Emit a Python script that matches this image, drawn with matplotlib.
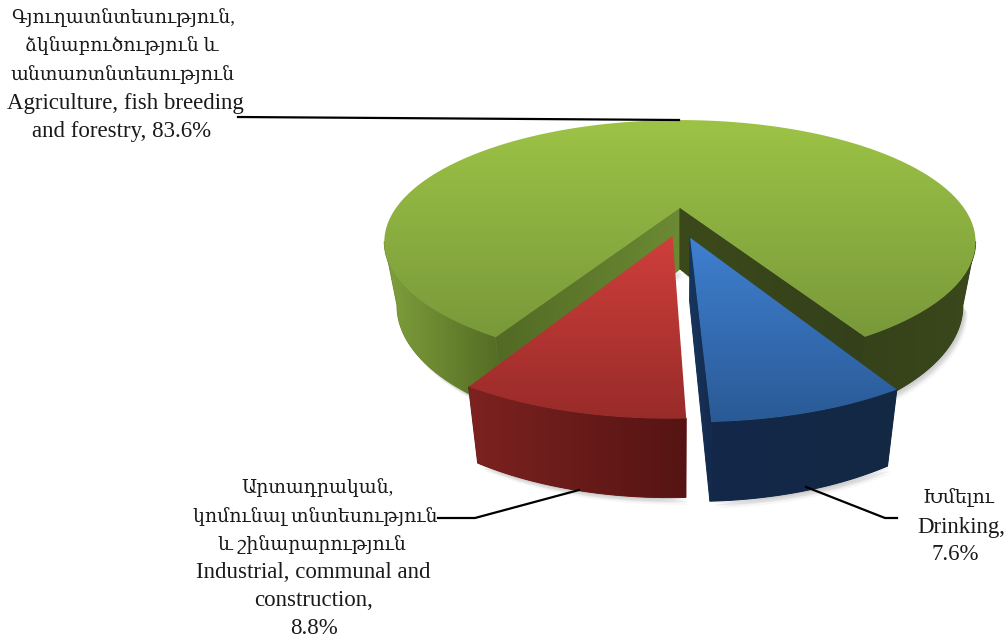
import numpy as np
import matplotlib
matplotlib.use('Agg')
import matplotlib.pyplot as plt
from matplotlib.colors import LinearSegmentedColormap
from matplotlib.patches import Polygon

# Data
shares = [83.6, 8.8, 7.6]  # agriculture, industrial, drinking
explode = [0.13, 0.105, 0.12]

agri_lines = ['Գյուղատնտեսություն,', 'ձկնաբուծություն և', 'անտառտնտեսություն',
              'Agriculture, fish breeding', 'and forestry, 83.6%']
indus_lines = ['Արտադրական,', 'կոմունալ տնտեսություն', 'և շինարարություն',
               'Industrial, communal and', 'construction,', '8.8%']
drink_lines = ['Խմելու', 'Drinking,', '7.6%']

FONT = ['Liberation Serif', 'DejaVu Serif']

# perspective of the pie plane in pixels
CX, CY, RX, RY, K = 680, 208, 284, 112.4, 0.278


def to_px(u, v, lower=False):
    d = 1 + K * v
    x = CX + RX * u / d
    y = CY - RY * v / d
    if lower:
        x = CX + 0.957 * (x - CX)
        y = y + 61 + 0.086 * (y - 209)
    return np.column_stack([x, y])


def rim(w, a1, a2, lower=False):
    th = np.radians(np.linspace(a1, a2, 120))
    return to_px(w.center[0] + np.cos(th), w.center[1] + np.sin(th), lower)


def spot(w, a=None, lower=False):
    if a is None:
        return to_px(np.array([w.center[0]]), np.array([w.center[1]]), lower)
    return rim(w, a, a, lower)[:1]


def fill(pts, colors, vertical=True, z=2, back=False):
    pts = np.asarray(pts)
    x0, y0 = pts.min(axis=0)
    x1, y1 = pts.max(axis=0)
    cm = LinearSegmentedColormap.from_list('g', colors)
    if back:
        # closes the hairline between neighbouring faces
        ax.add_patch(Polygon(pts, fc=cm(0.5), ec=cm(0.5), lw=0.7, zorder=z))
    grad = np.linspace(0, 1, 256)
    grad = grad[:, None] if vertical else grad[None, :]
    im = ax.imshow(grad, cmap=cm, extent=(x0, x1, y1, y0), aspect='auto', zorder=z,
                   interpolation='bilinear')
    im.set_clip_path(Polygon(pts, transform=ax.transData))


def band(w, a1, a2, colors, z=2):
    fill(np.vstack([rim(w, a1, a2), rim(w, a1, a2, True)[::-1]]), colors, False, z, True)


def cut(w, a, colors, z=2):
    pts = np.vstack([spot(w), spot(w, a), spot(w, a, True), spot(w, lower=True)])
    fill(pts, colors, False, z, True)


def shadow(pts, z=1):
    for dx, dy, al in [(5, 7, 0.05), (4, 5, 0.07), (3, 4, 0.09), (2, 2, 0.10)]:
        ax.add_patch(Polygon(pts + [dx, dy], fc='#555555', ec='none', alpha=al, zorder=z))


fig = plt.figure(figsize=(10.06, 6.39), dpi=100)
ax = fig.add_axes([0, 0, 1, 1])

wedges, _ = ax.pie(shares, explode=explode, startangle=-60.4, radius=1, center=(0, -0.13))
green, red, blue = wedges
for w in wedges:
    w.set_visible(False)

# green slice, the side runs out to the widest point of the rim
g1, g2 = green.theta1, green.theta2
low_left = rim(green, 196, g2, True)
low_right = rim(green, g1 + 360, 344, True)
shadow(np.vstack([low_left, spot(green, lower=True)]))
shadow(np.vstack([low_right, spot(green, lower=True)]))
band(green, 196, g2, ['#80a03c', '#526a23'], 2)
band(green, g1, -16, ['#36421a', '#3a481c'], 2)
cut(green, g2, ['#526a24', '#6c8a34'], 3)
cut(green, g1, ['#3c4a1b', '#33401a'], 3)
fill(np.vstack([spot(green), rim(green, g1, g2)]), ['#9dc346', '#79993a'], True, 4)

# red slice
r1, r2 = red.theta1, red.theta2
shadow(rim(red, r1, r2, True), 5)
band(red, r1, r2, ['#7c2220', '#551413'], 6)
fill(np.vstack([spot(red), rim(red, r1, r2)]), ['#cf3f3b', '#982b29'], True, 7)

# blue slice
b1, b2 = blue.theta1, blue.theta2
shadow(rim(blue, b1, b2, True), 5)
band(blue, b1, b2, ['#14294a', '#132843'], 6)
cut(blue, b1, ['#17365e', '#14294a'], 6)
fill(np.vstack([spot(blue), rim(blue, b1, b2)]), ['#3f80d0', '#2a5a96'], True, 7)

# leader lines
ax.plot([238, 679], [117, 120], color='black', lw=1.6, zorder=8)
ax.plot([438, 475, 579], [518, 518, 490], color='black', lw=1.6, zorder=8)
ax.plot([806, 885, 897], [487, 518, 518], color='black', lw=1.6, zorder=8)

# labels
for lines, xs, ys in [(agri_lines, [123, 122, 123, 125, 122], [18, 46, 75, 103, 132]),
                      (indus_lines, [318, 315, 312, 313, 314, 314], [488, 517, 545, 572, 601, 629]),
                      (drink_lines, [958, 961, 955], [498, 527, 555])]:
    for line, x, y in zip(lines, xs, ys):
        armenian = any('\u0530' <= c <= '\u058f' for c in line)
        ax.text(x, y, line, ha='center', va='center', family=FONT,
                fontsize=13.6 if armenian else 16.5, color='#1a1a1a', zorder=9)

ax.set_aspect('auto')
ax.set_xlim(0, 1006)
ax.set_ylim(639, 0)
ax.axis('off')
fig.savefig('out.png', dpi=100)
